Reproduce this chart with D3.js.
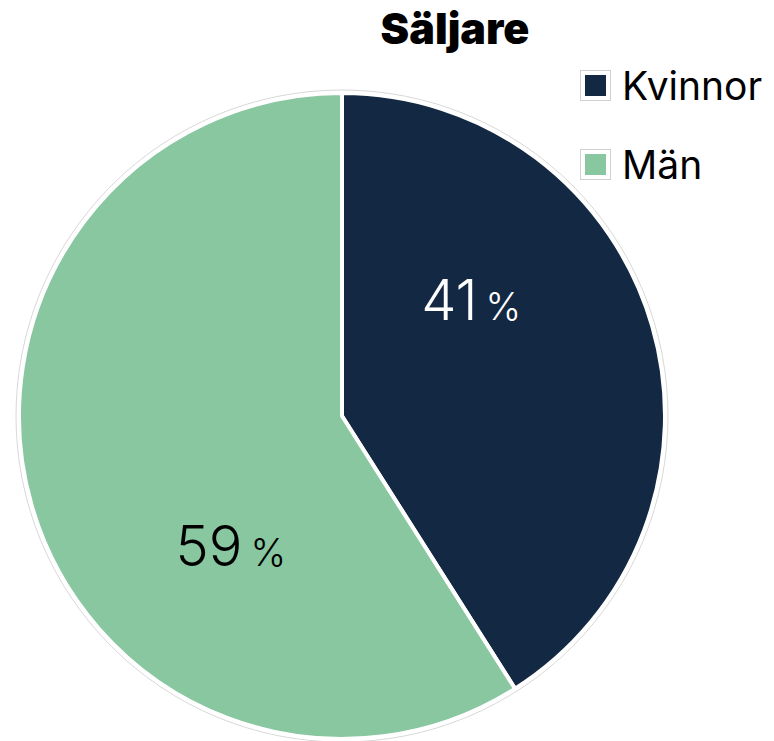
<!DOCTYPE html>
<html>
<head>
<meta charset="utf-8">
<script src="https://d3js.org/d3.v7.min.js"></script>
<style>
  body { margin: 0; background: #fff; }
  text { font-family: Inter, Roboto, "Noto Sans", sans-serif; }
</style>
</head>
<body>
<div id="chart"></div>
<script>
// Data
const categories = ["Kvinnor", "Män"]
const values = [41, 59]
const colors = ["#132843", "#88c79f"]
const labelColors = ["#ffffff", "#000000"]
const title = "Säljare"

const width = 774
const height = 741
const cx = 342
const cy = 416
const radius = 323

const svg = d3.select("#chart")
  .append("svg")
  .attr("width", width)
  .attr("height", height)

// faint outer ring
svg.append("circle")
  .attr("cx", cx)
  .attr("cy", cy)
  .attr("r", radius + 3)
  .attr("fill", "none")
  .attr("stroke", "#d8d8d8")
  .attr("stroke-width", 1)

const pie = d3.pie().sort(null).value(d => d)
const arcs = pie(values)

const arc = d3.arc().innerRadius(0).outerRadius(radius)

const g = svg.append("g")
  .attr("transform", `translate(${cx}, ${cy})`)

g.selectAll("path")
  .data(arcs)
  .join("path")
  .attr("d", arc)
  .attr("fill", (d, i) => colors[i])
  .attr("stroke", "#fff")
  .attr("stroke-width", 4)
  .attr("stroke-linejoin", "round")

// labels sit on a rotated copy of the pie
const labelPie = d3.pie().sort(null).value(d => d)
  .startAngle(-0.515).endAngle(2 * Math.PI - 0.515)
const labelArc = d3.arc().innerRadius(172).outerRadius(172)

const labels = g.selectAll("text.lbl")
  .data(labelPie(values))
  .join("text")
  .attr("class", "lbl")
  .attr("transform", d => {
    const [x, y] = labelArc.centroid(d)
    return `translate(${x + 9}, ${y + 27})`
  })
  .attr("text-anchor", "middle")
  .attr("font-weight", 300)
  .attr("fill", (d, i) => labelColors[i])

labels.append("tspan")
  .attr("font-size", 56)
  .text(d => d.data)
labels.append("tspan")
  .attr("font-size", 38)
  .attr("dx", 8)
  .text("%")

// title
svg.append("text")
  .attr("x", 455)
  .attr("y", 44)
  .attr("text-anchor", "middle")
  .attr("font-size", 43)
  .attr("font-weight", 900)
  .text(title)

// legend
const legend = svg.append("g")
  .attr("transform", "translate(580, 70)")

const item = legend.selectAll("g")
  .data(categories)
  .join("g")
  .attr("transform", (d, i) => `translate(0, ${i * 79})`)

item.append("rect")
  .attr("x", 0.5)
  .attr("y", 0.5)
  .attr("width", 30)
  .attr("height", 30)
  .attr("fill", "#fff")
  .attr("stroke", "#d0d0d0")
item.append("rect")
  .attr("x", 5)
  .attr("y", 5)
  .attr("width", 21)
  .attr("height", 21)
  .attr("fill", (d, i) => colors[i])

item.append("text")
  .attr("x", 42)
  .attr("y", 30)
  .attr("font-size", 39)
  .text(d => d)
</script>
</body>
</html>
